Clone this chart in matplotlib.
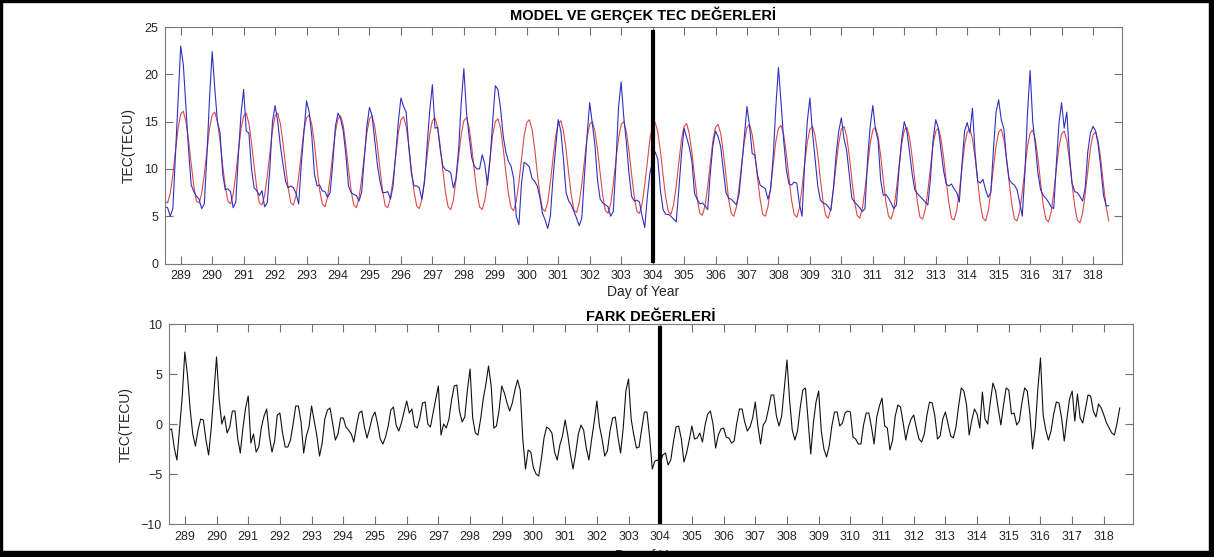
import numpy as np
import matplotlib.pyplot as plt
from matplotlib.patches import Rectangle

plt.rcParams['font.family'] = ['Liberation Sans', 'DejaVu Sans']

# 2-hourly samples, first sample at day 288.5
start_day = 288.5
samples_per_day = 12
split_day = 304

# measured TEC (TECU)
tec_obs = [
    6.0, 5.9, 5.0, 5.8, 11.5, 17.0,
    23.0, 21.0, 16.5, 12.0, 8.3, 7.6, 7.1, 6.8, 5.8, 6.3, 11.5, 17.5,
    22.4, 18.5, 15.0, 13.8, 9.5, 7.8, 7.9, 7.6, 5.9, 6.5, 11.5, 15.8,
    18.4, 14.0, 13.8, 10.0, 8.0, 7.7, 7.2, 7.7, 6.0, 6.4, 10.0, 15.0,
    16.7, 15.0, 12.5, 10.5, 8.7, 8.0, 8.2, 8.0, 7.4, 6.3, 10.5, 13.8,
    17.2, 16.0, 13.5, 9.5, 8.2, 8.3, 7.7, 7.6, 7.0, 7.5, 10.6, 14.5,
    15.9, 15.3, 14.0, 11.5, 8.2, 7.5, 7.3, 7.2, 6.6, 7.5, 11.0, 14.5,
    16.5, 15.6, 13.0, 10.5, 8.7, 7.5, 7.5, 7.6, 6.8, 8.2, 11.5, 15.0,
    17.5, 16.6, 16.0, 12.3, 9.5, 8.2, 8.2, 8.0, 6.8, 8.6, 12.5, 16.2,
    18.9, 14.3, 14.4, 12.0, 10.3, 9.9, 9.8, 9.6, 8.0, 9.0, 12.0, 17.0,
    20.6, 16.0, 13.5, 11.2, 10.3, 10.0, 10.0, 11.5, 10.5, 8.3, 11.0, 15.0,
    18.8, 18.4, 16.4, 13.5, 11.8, 10.8, 10.3, 9.0, 5.0, 4.1, 8.5, 10.7,
    10.5, 10.2, 9.0, 8.7, 8.2, 7.0, 5.3, 4.6, 3.7, 5.0, 9.0, 12.2,
    15.2, 14.0, 11.0, 7.5, 6.6, 6.2, 5.5, 4.8, 4.0, 4.8, 9.3, 13.5,
    17.0, 14.8, 12.5, 8.8, 6.8, 6.4, 6.2, 6.0, 5.0, 5.5, 10.5, 16.5,
    19.2, 15.5, 12.8, 9.5, 7.1, 6.6, 6.7, 6.5, 5.0, 3.8, 7.1, 9.6,
    10.8, 11.8, 11.0, 7.7, 5.7, 5.2, 5.2, 5.0, 4.7, 4.4, 7.8, 11.5,
    14.3, 13.3, 12.3, 10.8, 7.4, 6.8, 6.3, 6.4, 6.1, 5.7, 9.5, 12.5,
    14.0, 13.4, 12.3, 9.8, 7.5, 6.9, 6.8, 6.5, 6.2, 7.4, 10.3, 13.5,
    16.6, 14.5, 11.6, 11.5, 9.4, 8.3, 8.1, 7.9, 6.8, 7.8, 11.3, 16.5,
    20.7, 17.0, 13.0, 10.0, 8.4, 8.3, 8.6, 8.5, 6.3, 5.0, 10.6, 15.0,
    17.5, 13.8, 11.0, 8.2, 6.7, 6.4, 6.3, 6.0, 5.6, 8.0, 11.5, 14.0,
    15.4, 13.2, 12.0, 9.4, 6.9, 6.5, 6.2, 5.9, 5.5, 5.8, 11.0, 14.5,
    16.7, 14.2, 13.0, 8.8, 7.2, 7.3, 6.9, 6.4, 5.8, 6.2, 10.0, 13.1,
    15.0, 14.0, 11.8, 9.5, 7.8, 7.4, 7.1, 6.8, 6.5, 6.2, 9.0, 13.1,
    15.2, 14.3, 12.0, 9.8, 8.4, 8.2, 8.4, 7.9, 7.5, 6.5, 10.5, 14.0,
    14.9, 13.8, 16.4, 11.7, 8.7, 8.5, 8.9, 7.8, 7.0, 7.5, 12.0, 16.0,
    17.3, 15.2, 14.2, 11.0, 8.9, 8.5, 8.3, 7.8, 6.5, 5.0, 9.5, 15.9,
    20.4, 15.0, 12.5, 9.5, 7.8, 7.2, 6.9, 6.5, 6.0, 5.8, 10.5, 14.8,
    17.0, 14.3, 16.0, 11.5, 8.5, 7.6, 7.5, 7.1, 6.6, 8.0, 11.8, 13.8,
    14.5, 14.0, 12.5, 10.0, 7.2, 6.1, 6.1,
]

# model TEC (TECU)
tec_model = [
    6.6, 6.4, 7.4, 9.4, 11.9, 14.3,
    15.8, 16.1, 15.0, 13.0, 10.5, 8.2, 6.6, 6.4, 7.4, 9.4, 11.9, 14.3,
    15.7, 16.0, 15.0, 13.0, 10.4, 8.1, 6.6, 6.3, 7.3, 9.4, 11.9, 14.2,
    15.6, 15.9, 14.8, 12.8, 10.3, 8.0, 6.4, 6.2, 7.2, 9.2, 11.7, 14.1,
    15.6, 15.9, 14.8, 12.8, 10.3, 8.0, 6.4, 6.2, 7.2, 9.2, 11.7, 14.1,
    15.4, 15.7, 14.7, 12.7, 10.1, 7.8, 6.3, 6.0, 7.0, 9.1, 11.6, 13.9,
    15.3, 15.6, 14.6, 12.5, 10.0, 7.7, 6.2, 5.9, 6.9, 8.9, 11.4, 13.8,
    15.3, 15.6, 14.5, 12.5, 10.0, 7.7, 6.1, 5.9, 6.9, 8.9, 11.4, 13.8,
    15.2, 15.5, 14.5, 12.5, 9.9, 7.6, 6.1, 5.8, 6.8, 8.9, 11.4, 13.7,
    15.1, 15.4, 14.4, 12.4, 9.8, 7.5, 6.0, 5.7, 6.7, 8.8, 11.3, 13.6,
    15.1, 15.4, 14.4, 12.3, 9.8, 7.5, 6.0, 5.7, 6.7, 8.7, 11.2, 13.6,
    15.0, 15.3, 14.3, 12.2, 9.7, 7.4, 5.9, 5.6, 6.6, 8.6, 11.1, 13.5,
    14.9, 15.2, 14.2, 12.2, 9.6, 7.3, 5.8, 5.5, 6.5, 8.6, 11.1, 13.4,
    14.8, 15.1, 14.0, 12.0, 9.5, 7.2, 5.6, 5.4, 6.4, 8.4, 10.9, 13.3,
    14.7, 15.0, 14.0, 12.0, 9.5, 7.1, 5.6, 5.3, 6.3, 8.4, 10.9, 13.2,
    14.7, 15.0, 13.9, 11.9, 9.4, 7.1, 5.5, 5.3, 6.3, 8.3, 10.8, 13.2,
    14.6, 14.9, 13.9, 11.8, 9.3, 7.0, 5.5, 5.2, 6.2, 8.2, 10.7, 13.1,
    14.5, 14.8, 13.7, 11.7, 9.2, 6.9, 5.3, 5.1, 6.1, 8.1, 10.6, 13.0,
    14.4, 14.7, 13.7, 11.7, 9.2, 6.8, 5.3, 5.0, 6.0, 8.1, 10.6, 12.9,
    14.4, 14.7, 13.6, 11.6, 9.1, 6.8, 5.2, 5.0, 6.0, 8.0, 10.5, 12.9,
    14.3, 14.6, 13.6, 11.6, 9.1, 6.7, 5.2, 4.9, 5.9, 8.0, 10.5, 12.8,
    14.2, 14.5, 13.5, 11.5, 8.9, 6.6, 5.1, 4.8, 5.8, 7.9, 10.4, 12.7,
    14.2, 14.5, 13.5, 11.4, 8.9, 6.6, 5.1, 4.8, 5.8, 7.8, 10.3, 12.7,
    14.1, 14.4, 13.4, 11.4, 8.8, 6.5, 5.0, 4.7, 5.7, 7.8, 10.3, 12.6,
    14.1, 14.4, 13.3, 11.3, 8.8, 6.5, 4.9, 4.7, 5.7, 7.7, 10.2, 12.6,
    14.0, 14.3, 13.2, 11.2, 8.7, 6.4, 4.8, 4.6, 5.6, 7.6, 10.1, 12.5,
    13.9, 14.2, 13.2, 11.2, 8.7, 6.3, 4.8, 4.5, 5.5, 7.6, 10.1, 12.4,
    13.9, 14.2, 13.1, 11.1, 8.6, 6.3, 4.7, 4.5, 5.5, 7.5, 10.0, 12.4,
    13.8, 14.1, 13.1, 11.1, 8.5, 6.2, 4.7, 4.4, 5.4, 7.5, 10.0, 12.3,
    13.7, 14.0, 13.0, 10.9, 8.4, 6.1, 4.6, 4.3, 5.3, 7.3, 9.8, 12.2,
    13.6, 13.9, 12.9, 10.9, 8.3, 6.0, 4.5,
]

day_ticks = list(range(289, 319))

obs = np.array(tec_obs)
model = np.array(tec_model)
doy = start_day + np.arange(len(obs)) / samples_per_day
diff = obs - model

fig = plt.figure(figsize=(12.14, 5.57), dpi=100)
ax1 = fig.add_axes([0.1359, 0.5269, 0.7883, 0.4246])
ax2 = fig.add_axes([0.1392, 0.0592, 0.7941, 0.3591])

ax1.plot(doy, model, color='#dd4848', lw=0.8)
ax1.plot(doy, obs, color='#3030c0', lw=0.8)
ax1.axvline(split_day, ymin=0.012, ymax=0.98, color='black', lw=3)
ax1.set_ylim(0, 25)
ax1.set_yticks([0, 5, 10, 15, 20, 25])
ax1.set_title('MODEL VE GERÇEK TEC DEĞERLERİ', fontsize=10.5,
              fontweight='bold', pad=5)
ax1.set_xlabel('Day of Year', fontsize=10, color='#262626', labelpad=2)

ax2.plot(doy, diff, color='#111111', lw=0.8)
ax2.axvline(split_day, ymin=0.005, ymax=0.98, color='black', lw=3)
ax2.set_ylim(-10, 10)
ax2.set_yticks([-10, -5, 0, 5, 10])
ax2.set_title('FARK DEĞERLERİ', fontsize=10.5, fontweight='bold', pad=2)
ax2.set_xlabel('Day of Year', fontsize=10, color='#262626', labelpad=4)

for ax in (ax1, ax2):
    ax.set_xlim(288.5, 318.92)
    ax.set_xticks(day_ticks)
    ax.set_ylabel('TEC(TECU)', fontsize=10, color='#262626', labelpad=6)
    ax.tick_params(direction='in', top=True, right=True, length=6,
                   width=0.8, color='#707070', labelcolor='#262626',
                   labelsize=9, pad=5)
    for s in ax.spines.values():
        s.set_color('#7a7a7a')
        s.set_linewidth(0.8)

# black frame around the whole figure
fig.add_artist(Rectangle((0, 0), 1, 6 / 557, transform=fig.transFigure,
                         color='black', zorder=10))
fig.add_artist(Rectangle((1 - 5 / 1214, 0), 5 / 1214, 1, transform=fig.transFigure,
                         color='black', zorder=10))
fig.add_artist(Rectangle((0, 1 - 2 / 557), 1, 2 / 557, transform=fig.transFigure,
                         color='black', zorder=10))
fig.add_artist(Rectangle((0, 0), 2 / 1214, 1, transform=fig.transFigure,
                         color='black', zorder=10))

fig.savefig('out.png', dpi=100)
